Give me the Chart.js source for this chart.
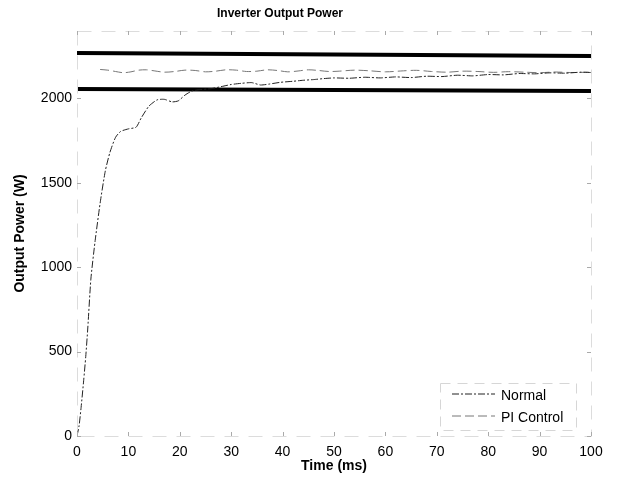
<!DOCTYPE html>
<html>
<head>
<meta charset="utf-8">
<script src="https://cdn.jsdelivr.net/npm/chart.js@4.4.1/dist/chart.umd.min.js"></script>
<style>
  html, body { margin: 0; padding: 0; background: #fff; }
</style>
</head>
<body>
<canvas id="powerChart" width="619" height="479"></canvas>
<script>
const xTicks = [0, 10, 20, 30, 40, 50, 60, 70, 80, 90, 100];
const yTicks = [0, 500, 1000, 1500, 2000];

// uscita senza controllo (ms, W)
const normalTime  = [0, 0.4, 0.8, 1.3, 1.7, 2.1, 2.7, 3.5, 4.5, 5.5, 6.4, 7.5, 8.5, 10, 11.5, 12.5, 14, 15.6, 17, 18.5, 19.7, 21, 22.4, 24, 26, 28, 30, 32, 34, 35.7, 37.5, 39.6, 42, 44, 46, 48, 50, 53, 56, 59, 62, 65, 68, 71, 74, 77, 80, 83, 86, 89, 92, 95, 98, 100];
const normalPower = [0, 60, 170, 330, 470, 640, 930, 1150, 1380, 1570, 1680, 1770, 1805, 1820, 1830, 1885, 1955, 1992, 1995, 1980, 1986, 2020, 2045, 2053, 2058, 2070, 2083, 2090, 2094, 2080, 2086, 2096, 2102, 2108, 2112, 2118, 2122, 2120, 2126, 2122, 2128, 2124, 2132, 2130, 2138, 2134, 2142, 2140, 2148, 2146, 2152, 2150, 2156, 2154];

// uscita con controllo PI
const piTime  = [4.5, 6, 7.5, 9, 10.5, 12, 13.5, 15, 17, 19, 21, 23, 25, 27, 29, 31, 33, 35, 37, 39, 41, 43, 45, 47, 49, 51, 54, 57, 60, 63, 66, 69, 72, 75, 78, 81, 84, 87, 90, 93, 96, 100];
const piPower = [2172, 2168, 2160, 2153, 2158, 2168, 2170, 2164, 2156, 2160, 2168, 2166, 2158, 2162, 2170, 2168, 2160, 2162, 2170, 2166, 2158, 2163, 2170, 2166, 2160, 2162, 2168, 2164, 2158, 2163, 2167, 2160, 2156, 2162, 2160, 2155, 2159, 2156, 2153, 2157, 2154, 2156];

// limiti (linee spesse)
const limitTime  = [0, 100];
const upperLimit = [2270, 2252];
const lowerLimit = [2057, 2045];

const toPoints = (xs, ys) => xs.map((x, i) => ({ x: x, y: ys[i] }));

Chart.defaults.font.family = '"Liberation Sans", Arial, sans-serif';
Chart.defaults.color = '#000';

const decorPlugin = {
    id: 'decor',
    afterDraw(chart) {
        const ctx = chart.ctx;
        const a = chart.chartArea;
        const xs = chart.scales.x;
        const ys = chart.scales.y;
        ctx.save();

        // cornice tratteggiata chiara
        ctx.strokeStyle = '#dcdcdc';
        ctx.lineWidth = 1;
        ctx.setLineDash([14, 10]);
        ctx.strokeRect(a.left + 0.5, a.top + 0.5, a.right - a.left, a.bottom - a.top);
        ctx.setLineDash([]);

        // tacche interne
        ctx.strokeStyle = '#aaa';
        ctx.beginPath();
        xTicks.forEach(v => {
            const px = Math.round(xs.getPixelForValue(v)) + 0.5;
            ctx.moveTo(px, a.bottom); ctx.lineTo(px, a.bottom - 4);
            ctx.moveTo(px, a.top); ctx.lineTo(px, a.top + 4);
        });
        yTicks.forEach(v => {
            const py = Math.round(ys.getPixelForValue(v)) + 0.5;
            ctx.moveTo(a.left, py); ctx.lineTo(a.left + 4, py);
            ctx.moveTo(a.right, py); ctx.lineTo(a.right - 4, py);
        });
        ctx.stroke();

        // titolo
        ctx.fillStyle = '#000';
        ctx.font = 'bold 12px "Liberation Sans", Arial, sans-serif';
        ctx.textAlign = 'center';
        ctx.textBaseline = 'middle';
        ctx.fillText('Inverter Output Power', 280, 14);

        // legenda dentro il grafico
        const bx = 440, by = 383, bw = 136, bh = 47;
        ctx.strokeStyle = '#d6d6d6';
        ctx.setLineDash([10, 7]);
        ctx.strokeRect(bx + 0.5, by + 0.5, bw, bh);
        ctx.setLineDash([]);
        const items = chart.data.datasets.filter(d => d.inLegend);
        ctx.font = '14px "Liberation Sans", Arial, sans-serif';
        ctx.textAlign = 'left';
        items.forEach((d, i) => {
            const y = 396 + i * 22;
            ctx.strokeStyle = d.borderColor;
            ctx.lineWidth = d.borderWidth;
            ctx.setLineDash(d.borderDash || []);
            ctx.beginPath();
            ctx.moveTo(452, y - 2);
            ctx.lineTo(495, y - 2);
            ctx.stroke();
            ctx.setLineDash([]);
            ctx.fillStyle = '#000';
            ctx.fillText(d.label, 501, y);
        });
        ctx.restore();
    }
};

new Chart(document.getElementById('powerChart'), {
    type: 'scatter',
    data: {
        datasets: [
            {
                label: 'Normal',
                inLegend: true,
                data: toPoints(normalTime, normalPower),
                showLine: true,
                borderColor: '#222',
                borderWidth: 1,
                borderDash: [7, 2, 2, 2],
                pointRadius: 0,
                tension: 0.2,
            },
            {
                label: 'PI Control',
                inLegend: true,
                data: toPoints(piTime, piPower),
                showLine: true,
                borderColor: '#777',
                borderWidth: 1,
                borderDash: [9, 4],
                pointRadius: 0,
                tension: 0.3,
            },
            {
                label: 'Upper',
                data: toPoints(limitTime, upperLimit),
                showLine: true,
                borderColor: '#000',
                borderWidth: 4,
                pointRadius: 0,
            },
            {
                label: 'Lower',
                data: toPoints(limitTime, lowerLimit),
                showLine: true,
                borderColor: '#000',
                borderWidth: 4,
                pointRadius: 0,
            },
        ]
    },
    options: {
        responsive: false,
        animation: false,
        layout: { padding: { top: 31, right: 28, left: 0, bottom: 0 } },
        scales: {
            x: {
                type: 'linear',
                min: 0,
                max: 100,
                afterBuildTicks: s => { s.ticks = xTicks.map(v => ({ value: v })); },
                afterFit: s => { s.height = 43; },
                grid: { display: false, drawTicks: false },
                border: { display: false },
                ticks: { padding: 8, font: { size: 14 }, maxRotation: 0, callback: v => String(v) },
                title: {
                    display: true,
                    text: 'Time (ms)',
                    font: { size: 14, weight: 'bold' },
                    padding: { top: 0, bottom: 4 },
                },
            },
            y: {
                min: 0,
                max: 2400,
                afterBuildTicks: s => { s.ticks = yTicks.map(v => ({ value: v })); },
                afterFit: s => { s.width = 77; },
                grid: { display: false, drawTicks: false },
                border: { display: false },
                ticks: { padding: 5, font: { size: 14 }, callback: v => String(v) },
                title: {
                    display: true,
                    text: 'Output Power (W)',
                    font: { size: 14, weight: 'bold' },
                    padding: { top: 12, bottom: 0 },
                },
            }
        },
        plugins: {
            legend: { display: false },
            title: { display: false },
            tooltip: { enabled: false },
        },
    },
    plugins: [decorPlugin]
});
</script>
</body>
</html>
